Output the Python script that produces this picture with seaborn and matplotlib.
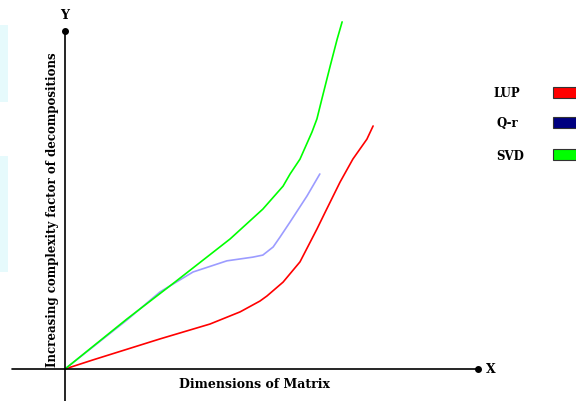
import numpy as np
import pandas as pd
import matplotlib
matplotlib.use("Agg")
import matplotlib.pyplot as plt
from matplotlib.patches import Rectangle
import seaborn as sns

sns.set_style("white")
plt.rcParams['font.family'] = ['DejaVu Serif']
plt.rcParams['text.color'] = 'black'

# series (dimension, complexity)
lup_x = [0, 0.68, 2.30, 3.51, 4.24, 4.72, 4.89, 5.28, 5.69, 6.10, 6.30, 6.66, 6.97, 7.31, 7.46]
lup_y = [0, 0.27, 0.89, 1.33, 1.69, 2.01, 2.16, 2.57, 3.17, 4.14, 4.64, 5.53, 6.21, 6.80, 7.19]

qr_x = [0, 1.50, 2.30, 3.10, 3.92, 4.55, 4.79, 5.04, 5.21, 5.45, 5.86, 6.17]
qr_y = [0, 1.45, 2.28, 2.87, 3.20, 3.31, 3.37, 3.61, 3.91, 4.35, 5.12, 5.77]

svd_x = [0, 1.50, 2.66, 4.00, 4.79, 5.28, 5.45, 5.69, 5.98, 6.10, 6.22, 6.42, 6.59, 6.71]
svd_y = [0, 1.48, 2.57, 3.85, 4.73, 5.41, 5.77, 6.21, 7.01, 7.40, 7.99, 8.96, 9.76, 10.27]

labels = ["LUP", "Q-r", "SVD"]
line_colors = ["#ff0000", "#9c9cff", "#00ff00"]
box_colors = ["#ff0000", "#000080", "#00ff00"]

df = pd.concat([
    pd.DataFrame({'x': lup_x, 'y': lup_y, 'method': 'LUP'}),
    pd.DataFrame({'x': qr_x, 'y': qr_y, 'method': 'Q-r'}),
    pd.DataFrame({'x': svd_x, 'y': svd_y, 'method': 'SVD'}),
])

fig = plt.figure(figsize=(5.76, 4.02), dpi=100)
ax = fig.add_axes([0, 0, 1, 1])
ax.set_xlim(-1.574, 12.373)
ax.set_ylim(-0.947, 10.947)
ax.axis('off')

# faint strips on the left edge
ax.add_patch(Rectangle((0, 0.745), 0.014, 0.19, transform=ax.transAxes,
                       color="#e6fafc", lw=0))
ax.add_patch(Rectangle((0, 0.32), 0.014, 0.29, transform=ax.transAxes,
                       color="#e6fafc", lw=0))

for m, c in zip(labels, line_colors):
    sns.lineplot(data=df[df['method'] == m], x='x', y='y', color=c,
                 lw=1.2, sort=False, estimator=None, legend=False, ax=ax)

# axes drawn by hand
ax.plot([-1.283, 10], [0, 0], color='black', lw=1.2)
ax.plot([0, 0], [-0.947, 10], color='black', lw=1.2)
ax.plot([10], [0], 'o', color='black', ms=4)
ax.plot([0], [10], 'o', color='black', ms=4)
ax.text(10.2, 0, "X", fontsize=9, fontweight='bold', ha='left', va='center')
ax.text(0, 10.5, "Y", fontsize=9, fontweight='bold', ha='center', va='center')

ax.text(4.6, -0.44, "Dimensions of Matrix", fontsize=9, fontweight='bold',
        ha='center', va='center')
ax.text(-0.31, 4.75, "Increasing complexity factor of decompositions", fontsize=8.5,
        fontweight='bold', rotation=90, ha='center', va='center')

# legend
text_pos = [(10.70, 8.17), (10.70, 7.28), (10.77, 6.33)]
box_bottom = [8.02, 7.13, 6.18]
for lab, col, (tx, ty), bb in zip(labels, box_colors, text_pos, box_bottom):
    ax.text(tx, ty, lab, fontsize=8.5, fontweight='bold', ha='center', va='center')
    ax.add_patch(Rectangle((11.82, bb), 0.65, 0.33, facecolor=col,
                           edgecolor='#333333', lw=0.8, clip_on=False))

fig.savefig("out.png", dpi=100)
